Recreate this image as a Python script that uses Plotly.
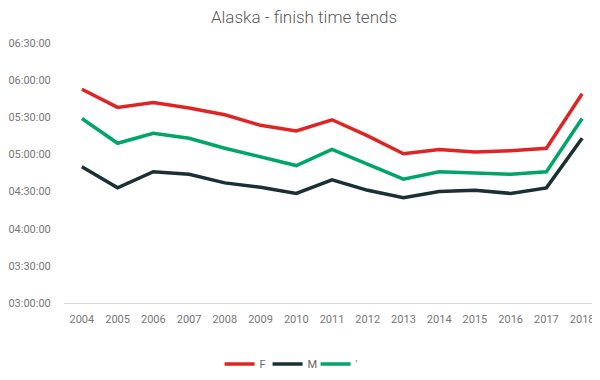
import plotly.graph_objects as go

years = [str(y) for y in range(2004, 2019)]
female = ["05:52:40", "05:38:00", "05:42:00", "05:37:30", "05:32:00", "05:23:30", "05:19:00",
          "05:28:00", "05:15:00", "05:00:30", "05:04:00", "05:02:00", "05:03:00", "05:05:00", "05:49:00"]
male = ["04:50:00", "04:33:00", "04:46:00", "04:44:00", "04:37:00", "04:33:30", "04:28:30",
        "04:39:30", "04:31:00", "04:25:00", "04:30:00", "04:31:00", "04:28:30", "04:33:00", "05:13:00"]
overall = ["05:29:00", "05:09:00", "05:17:00", "05:13:00", "05:05:00", "04:58:00", "04:51:00",
           "05:04:00", "04:52:00", "04:40:00", "04:46:00", "04:45:00", "04:44:00", "04:46:00", "05:29:00"]
names = ["F", "M", "'"]
colors = ["#e02424", "#1b2f37", "#00a568"]

def to_dt(vals):
    return ["1970-01-01 " + v for v in vals]

fig = go.Figure()
for name, vals, col in zip(names, [female, male, overall], colors):
    fig.add_trace(go.Scatter(x=years, y=to_dt(vals), name=name, mode="lines",
                             line=dict(color=col, width=3.5)))

# page body has an 8px default margin, so the figure is 8px smaller
fig.update_layout(
    width=592, height=372,
    margin=dict(l=52, r=0, t=35, b=77),
    paper_bgcolor="white", plot_bgcolor="white",
    font=dict(family="Roboto", color="#666666", size=11),
    title=dict(text="Alaska - finish time tends", x=0.5, xanchor="center", y=0.976, yanchor="middle",
               font=dict(family="Roboto", size=17, color="#595959", weight=300)),
    showlegend=True,
    legend=dict(orientation="h", xref="container", x=0.479, xanchor="center",
                yref="container", y=0.043, yanchor="middle",
                font=dict(size=11, color="#666666"),
                entrywidth=3, entrywidthmode="pixels", itemwidth=30),
)
fig.update_xaxes(type="category", range=[-0.5, len(years) - 0.5], showgrid=False, showline=True,
                 linecolor="#d9d9d9", linewidth=1,
                 ticks="outside", ticklen=6, tickcolor="rgba(0,0,0,0)",
                 tickfont=dict(size=11, color="#777777"))
fig.update_yaxes(type="date", range=["1970-01-01 03:00:00", "1970-01-01 06:30:00"],
                 tickformat="%H:%M:%S", dtick=1800000, tick0="1970-01-01 03:00:00",
                 showgrid=False, zeroline=False, showline=False,
                 ticks="outside", ticklen=10, tickcolor="rgba(0,0,0,0)",
                 tickfont=dict(size=11, color="#777777"))

fig.write_html("out.html")
